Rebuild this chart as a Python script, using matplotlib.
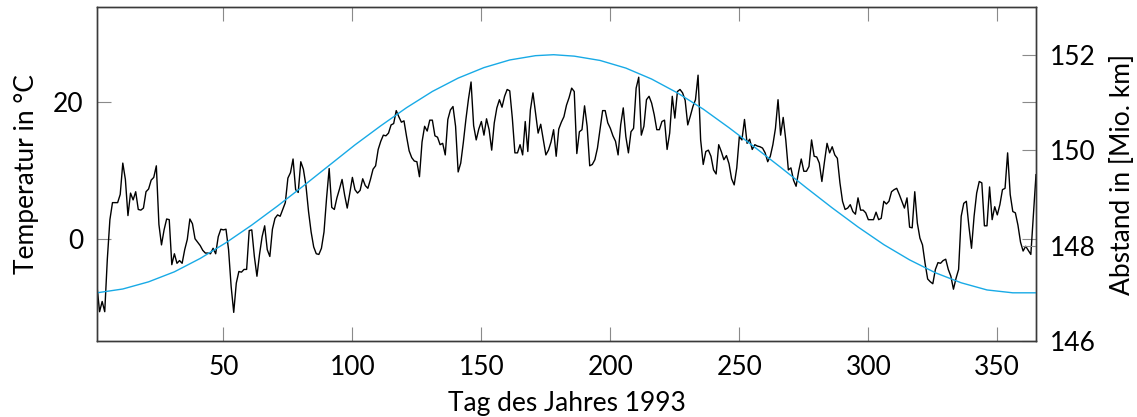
import numpy as np
import matplotlib
matplotlib.use("Agg")
import matplotlib.pyplot as plt

# Tagesmitteltemperatur 1993 (Tag 1..365)
temperatur = [
    -7.0, -10.7, -9.2, -10.7, -3.0, 2.8, 5.3, 5.3, 5.3, 6.5,
    11.1, 8.7, 3.4, 6.7, 5.7, 6.9, 4.3, 4.2, 4.5, 6.9,
    7.3, 8.6, 9.0, 10.7, 2.1, -0.9, 1.3, 2.9, 2.8, -3.8,
    -2.2, -3.6, -3.2, -3.6, -1.6, -0.1, 2.9, 2.2, 0.0, -0.5,
    -1.0, -1.7, -2.1, -2.1, -2.2, -1.4, -2.2, 0.3, 1.4, 1.3,
    1.4, -1.6, -7.0, -10.8, -6.5, -4.8, -4.9, -4.5, -4.5, 1.2,
    1.3, -2.6, -5.5, -2.3, 0.3, 1.9, -1.6, -2.6, 1.4, 3.0,
    3.5, 3.3, 4.3, 5.3, 8.9, 9.7, 11.7, 7.2, 6.8, 11.3,
    10.2, 7.8, 4.0, 1.0, -1.2, -2.2, -2.3, -1.4, 1.0, 6.0,
    10.3, 4.6, 4.3, 6.0, 7.3, 8.7, 6.4, 4.5, 6.7, 9.0,
    7.2, 6.7, 7.1, 8.8, 7.8, 7.4, 8.7, 10.2, 10.7, 13.1,
    14.3, 15.2, 15.1, 15.5, 16.7, 16.9, 18.8, 17.9, 17.1, 17.3,
    15.0, 12.9, 11.9, 11.4, 11.3, 9.1, 14.2, 16.5, 15.8, 17.4,
    17.4, 15.1, 14.9, 13.8, 14.0, 12.3, 17.5, 18.9, 19.4, 16.5,
    9.8, 11.1, 14.1, 17.5, 20.5, 23.0, 16.6, 14.5, 16.1, 17.2,
    15.2, 17.6, 16.0, 13.0, 17.0, 19.2, 20.4, 19.3, 20.9, 21.9,
    21.7, 17.7, 12.6, 12.6, 13.8, 12.3, 17.2, 12.8, 18.9, 21.4,
    18.4, 15.5, 16.8, 14.5, 12.3, 13.0, 14.2, 16.0, 12.1, 16.1,
    17.1, 17.9, 19.6, 20.7, 22.1, 21.6, 12.5, 15.7, 16.0, 19.5,
    16.5, 10.7, 10.9, 11.6, 13.3, 16.0, 18.8, 18.8, 17.0, 16.2,
    15.1, 14.3, 12.3, 16.7, 19.2, 15.0, 12.6, 15.7, 16.2, 22.1,
    23.7, 15.2, 16.5, 20.4, 20.9, 19.9, 18.2, 16.0, 16.0, 17.2,
    17.4, 13.1, 15.5, 20.9, 17.7, 21.6, 21.9, 21.4, 20.3, 16.7,
    18.0, 19.4, 20.4, 24.0, 14.5, 10.9, 12.8, 13.0, 12.1, 10.1,
    9.5, 13.8, 12.8, 11.6, 12.2, 11.0, 8.8, 7.9, 10.4, 15.0,
    14.5, 17.5, 14.0, 14.6, 13.1, 13.8, 13.6, 13.5, 13.3, 12.6,
    11.3, 12.1, 13.8, 16.2, 20.4, 15.2, 17.8, 14.5, 10.1, 10.4,
    8.6, 7.7, 9.9, 11.7, 9.9, 9.9, 10.6, 14.5, 12.1, 12.0,
    11.1, 8.4, 11.3, 14.0, 12.6, 13.5, 12.3, 11.8, 8.2, 5.5,
    4.3, 4.5, 5.0, 4.0, 3.6, 6.0, 4.2, 4.2, 3.8, 2.8,
    2.8, 2.8, 3.9, 2.8, 3.0, 5.5, 5.1, 5.5, 6.9, 7.2,
    7.4, 6.5, 5.5, 4.5, 6.0, 1.7, 1.6, 6.9, 2.3, 0.1,
    -0.9, -3.6, -5.9, -6.3, -6.6, -4.5, -3.5, -3.6, -3.2, -3.0,
    -4.5, -5.5, -7.4, -5.8, -4.5, 3.3, 5.2, 5.5, 1.8, -1.4,
    3.3, 6.7, 8.4, 8.2, 1.9, 1.9, 7.6, 2.8, 4.7, 3.5,
    5.0, 7.2, 7.4, 12.6, 6.5, 4.0, 3.8, 2.0, -0.5, -1.8,
    -1.1, -1.7, -2.3, 3.6, 9.4,
]
tage = np.arange(1, len(temperatur) + 1)

# Abstand Erde-Sonne in Mio. km
abstand_tage = [1, 11, 21, 31, 41, 51, 61, 71, 81, 91, 101, 111, 121, 131,
                141, 151, 161, 171, 178, 186, 196, 206, 216, 226, 236, 246,
                256, 266, 276, 286, 296, 306, 316, 326, 336, 346, 356, 365]
abstand = [147.01, 147.09, 147.24, 147.45, 147.73, 148.06, 148.43, 148.83,
           149.25, 149.68, 150.11, 150.51, 150.89, 151.23, 151.51, 151.73,
           151.89, 151.98, 152.00, 151.97, 151.88, 151.72, 151.49, 151.20,
           150.86, 150.47, 150.06, 149.64, 149.21, 148.79, 148.39, 148.02,
           147.70, 147.43, 147.22, 147.07, 147.01, 147.01]

x_ticks = [50, 100, 150, 200, 250, 300, 350]
y_ticks_links = [0, 20]
y_ticks_rechts = [146, 148, 150, 152]

plt.rcParams["font.family"] = ["Lato", "DejaVu Sans"]
plt.rcParams["font.size"] = 19

fig = plt.figure(figsize=(11.37, 4.17), dpi=100)
ax = fig.add_axes([97 / 1137, 76 / 417, 939 / 1137, 334 / 417])
ax2 = ax.twinx()

ax.plot(tage, temperatur, color="black", lw=1.0, zorder=3)
ax2.plot(abstand_tage, abstand, color="#18aae6", lw=1.0)

ax.set_xlim(1, 365)
ax.set_ylim(-15, 34)
ax2.set_ylim(146, 153)
ax.set_xticks(x_ticks)
ax.set_yticks(y_ticks_links)
ax2.set_yticks(y_ticks_rechts)

ax.tick_params(direction="in", length=10, width=0.8, color="#8a8a8a",
               top=True, right=True, labelright=False, pad=10)
ax2.tick_params(direction="in", length=10, width=0.8, color="#8a8a8a",
                left=False, pad=10)

for a in (ax, ax2):
    for s in a.spines.values():
        s.set_color("#3a3a3a")
        s.set_linewidth(1.0)

ax.set_xlabel("Tag des Jahres 1993", labelpad=8)
ax.set_ylabel("Temperatur in °C", labelpad=10)
ax2.set_ylabel("Abstand in [Mio. km]", labelpad=10)

fig.savefig("out.png", dpi=100)
